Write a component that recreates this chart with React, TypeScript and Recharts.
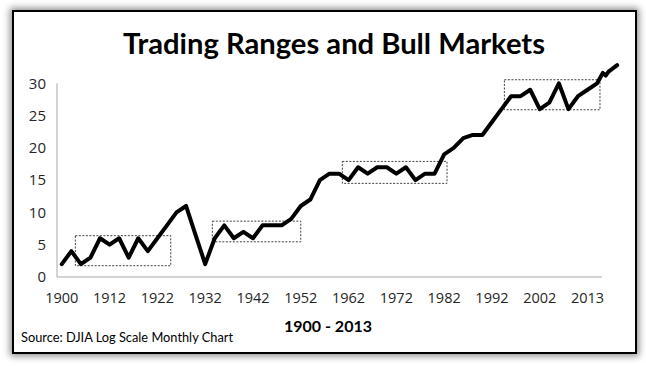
import React from "react";
import { LineChart, Line, XAxis, YAxis, ReferenceArea, ReferenceLine } from "recharts";

// Values (index = category position)
const values: number[] = [
  2, 4, 2, 3, 6, 5, 6, 3, 6, 4,
  6, 8, 10, 11, 6.5, 2, 6, 8, 6, 7,
  6, 8, 8, 8, 9, 11, 12, 15, 16, 16,
  15, 17, 16, 17, 17, 16, 17, 15, 16, 16,
  19, 20, 21.5, 22, 22, 24, 26, 28, 28, 29,
  26, 27, 30, 26, 28, 29, 30,
];
// Hand-drawn tail beyond the last category
const tailX: number[] = [56.6, 56.9, 57.2, 58.1];
const tailY: number[] = [31.6, 31.2, 31.8, 32.8];

const tickLabels: string[] = ["1900", "1912", "1922", "1932", "1942", "1952", "1962", "1972", "1982", "1992", "2002", "2013"];
const tickPositions: number[] = [0, 5, 10, 15, 20, 25, 30, 35, 40, 45, 50, 55];
const yTicks: number[] = [0, 5, 10, 15, 20, 25, 30];

// Trading range boxes: [x1, x2, yLow, yHigh]
const boxes: number[][] = [
  [1.42, 11.4, 1.75, 6.4],
  [15.75, 25.0, 5.45, 8.65],
  [29.35, 40.3, 14.5, 17.9],
  [46.3, 56.3, 25.9, 30.55],
];

const data = [
  ...values.map((v, i) => ({ x: i, y: v })),
  ...tailX.map((x, i) => ({ x, y: tailY[i] })),
];

const FONT = "'Open Sans', 'DejaVu Sans', sans-serif";

export default function App() {
  return (
    <div style={{ position: "fixed", left: 0, top: 0, width: 646, height: 368, background: "#ffffff", overflow: "hidden" }}>
      <div
        style={{
          position: "absolute",
          left: 12,
          top: 10,
          width: 625,
          height: 344,
          boxSizing: "border-box",
          border: "2px solid #000",
          background: "#fff",
          boxShadow: "0 0 7px 2px rgba(0,0,0,0.45)",
        }}
      />
      <div style={{ position: "absolute", left: 0, top: 0 }}>
        <LineChart width={646} height={368} data={data} margin={{ top: 51, right: 25, bottom: 61, left: 12 }}>
          <XAxis
            dataKey="x"
            type="number"
            domain={[-0.5, 58.5]}
            ticks={tickPositions}
            tickFormatter={(v: number) => tickLabels[tickPositions.indexOf(v)] ?? ""}
            axisLine={false}
            tickLine={false}
            tickSize={0}
            tickMargin={16}
            height={30}
            interval={0}
            tick={{ fontFamily: FONT, fontSize: 14.5, fill: "#262626" }}
          />
          <YAxis
            type="number"
            domain={[0, 35]}
            ticks={yTicks}
            axisLine={false}
            tickLine={false}
            tickSize={0}
            tickMargin={11}
            width={45}
            interval={0}
            tick={{ fontFamily: FONT, fontSize: 15, fill: "#262626" }}
          />
          <ReferenceLine
            segment={[{ x: -0.5, y: 0 }, { x: 56.5, y: 0 }]}
            stroke="#a6a6a6"
            strokeWidth={1}
            ifOverflow="visible"
          />
          <ReferenceLine
            segment={[{ x: -0.5, y: 0 }, { x: -0.5, y: 30 }]}
            stroke="#a6a6a6"
            strokeWidth={1}
            ifOverflow="visible"
          />
          {boxes.map((b, i) => (
            <ReferenceArea
              key={i}
              x1={b[0]}
              x2={b[1]}
              y1={b[2]}
              y2={b[3]}
              fill="none"
              fillOpacity={0}
              stroke="#404040"
              strokeWidth={1}
              strokeDasharray="2 1.5"
              ifOverflow="visible"
            />
          ))}
          <Line
            dataKey="y"
            type="linear"
            stroke="#000"
            strokeWidth={4}
            dot={false}
            strokeLinejoin="round"
            strokeLinecap="round"
            isAnimationActive={false}
          />
        </LineChart>
      </div>
      <svg width={646} height={368} style={{ position: "absolute", left: 0, top: 0, pointerEvents: "none" }}>
        <text
          x={334}
          y={54}
          textAnchor="middle"
          fontFamily="Lato, 'Open Sans', sans-serif"
          fontWeight={700}
          fontSize={28}
          fill="#000"
          textLength={422}
          lengthAdjust="spacingAndGlyphs"
        >
          Trading Ranges and Bull Markets
        </text>
        <text
          x={328}
          y={332}
          textAnchor="middle"
          fontFamily="Lato, 'Open Sans', sans-serif"
          fontWeight={700}
          fontSize={16}
          fill="#000"
        >
          1900 - 2013
        </text>
        <text
          x={21}
          y={342}
          fontFamily="Lato, 'Open Sans', sans-serif"
          fontSize={13}
          fill="#000"
          textLength={212}
          lengthAdjust="spacingAndGlyphs"
        >
          Source: DJIA Log Scale Monthly Chart
        </text>
      </svg>
    </div>
  );
}
